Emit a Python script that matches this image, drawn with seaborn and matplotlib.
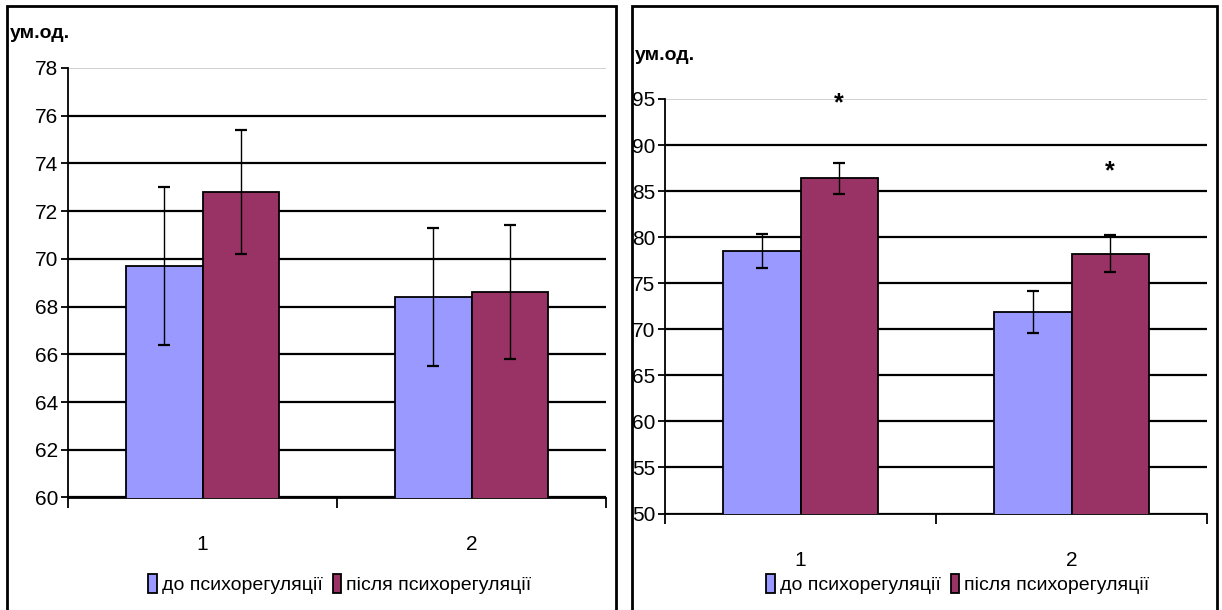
import matplotlib
matplotlib.use("Agg")
import matplotlib.pyplot as plt
import seaborn as sns
import pandas as pd
from matplotlib.patches import Rectangle, Patch

# ---- data ----
groups = ["1", "2"]
series = ["до психорегуляції", "після психорегуляції"]

left_before = [69.7, 68.4]
left_after = [72.8, 68.6]
left_before_err = [3.3, 2.9]
left_after_err = [2.6, 2.8]
left_ticks = list(range(60, 79, 2))

right_before = [78.5, 71.9]
right_after = [86.4, 78.2]
right_before_err = [1.8, 2.3]
right_after_err = [1.7, 2.0]
right_ticks = list(range(50, 96, 5))
right_star_y = [94.5, 87.2]  # significance marks over the "після" bars

unit_label = "ум.од."
colors = {series[0]: "#9999FF", series[1]: "#993366"}

# ---- style ----
sns.set_style("white")
FONT = ["Liberation Sans Narrow", "Liberation Sans", "DejaVu Sans"]
plt.rcParams["font.family"] = FONT
plt.rcParams["text.color"] = "black"
plt.rcParams["xtick.color"] = "black"
plt.rcParams["ytick.color"] = "black"
plt.rcParams["axes.labelcolor"] = "black"

W, H = 1222, 610
fig = plt.figure(figsize=(W / 100, H / 100), dpi=100)


def px_axes(x0, x1, y_top, y_bot):
    return fig.add_axes([x0 / W, 1 - y_bot / H, (x1 - x0) / W, (y_bot - y_top) / H])


def draw_panel(ax, before, after, err_b, err_a, ticks, stars=None):
    df = pd.DataFrame({
        "group": groups * 2,
        "series": [series[0]] * len(groups) + [series[1]] * len(groups),
        "value": before + after,
    })
    sns.barplot(data=df, x="group", y="value", hue="series", order=groups,
                hue_order=series, palette=colors, width=0.57, errorbar=None,
                edgecolor="black", linewidth=1.3, legend=False, ax=ax,
                saturation=1, zorder=3)
    for cont, errs in zip(ax.containers, [err_b, err_a]):
        for bar, e in zip(cont, errs):
            xc = bar.get_x() + bar.get_width() / 2
            ax.errorbar(xc, bar.get_height(), yerr=e, fmt="none", ecolor="black",
                        elinewidth=1.0, capsize=4, capthick=1.6, zorder=4)
    if stars is not None:
        for bar, sy in zip(ax.containers[1], stars):
            xc = bar.get_x() + bar.get_width() / 2
            ax.text(xc, sy, "*", ha="center", va="center", fontsize=18,
                    fontweight="bold", zorder=5)

    ax.set_xlim(-0.5, len(groups) - 0.5)
    ax.set_ylim(ticks[0], ticks[-1])
    ax.set_yticks(ticks)
    ax.set_xticks(range(len(groups)))
    ax.set_xticklabels(groups)
    ax.set_xticks([i - 0.5 for i in range(len(groups) + 1)], minor=True)
    ax.set_xlabel("")
    ax.set_ylabel("")
    ax.set_axisbelow(True)
    ax.yaxis.grid(True, color="black", linewidth=1.6)
    ax.get_ygridlines()[-1].set_color("#c8c8c8")
    ax.get_ygridlines()[-1].set_linewidth(1.2)
    for s in ["top", "right"]:
        ax.spines[s].set_visible(False)
    for s in ["left", "bottom"]:
        ax.spines[s].set_color("black")
        ax.spines[s].set_linewidth(1.3)
    ax.tick_params(axis="x", which="major", bottom=True, length=0, pad=27,
                   labelsize=15)
    ax.tick_params(axis="x", which="minor", bottom=True, length=7, width=1.3,
                   color="black", direction="out")
    ax.tick_params(axis="y", left=True, length=5, width=1.3, color="black",
                   direction="out", labelsize=15, pad=2)


axL = px_axes(68, 606, 68, 497.5)
draw_panel(axL, left_before, left_after, left_before_err, left_after_err, left_ticks)

axR = px_axes(665, 1207, 99, 513.5)
draw_panel(axR, right_before, right_after, right_before_err, right_after_err,
           right_ticks, stars=right_star_y)

# unit labels
fig.text(10 / W, 1 - 33 / H, unit_label, ha="left", va="center", fontsize=14,
         fontweight="bold")
fig.text(635 / W, 1 - 56 / H, unit_label, ha="left", va="center", fontsize=14,
         fontweight="bold")

# legends
handles = [Patch(facecolor=colors[s], edgecolor="black", linewidth=1.3) for s in series]
for cx, cy in [(340, 584), (958, 584)]:
    fig.legend(handles, series, loc="center", bbox_to_anchor=(cx / W, 1 - cy / H),
               ncol=2, frameon=False, handlelength=0.45, handleheight=1.1,
               handletextpad=0.25, columnspacing=0.5, fontsize=14,
               borderaxespad=0, borderpad=0)

# panel frames
for x0, x1 in [(7, 616), (632, 1217)]:
    fig.add_artist(Rectangle((x0 / W, -0.05), (x1 - x0) / W, 1 - 6 / H + 0.05,
                             transform=fig.transFigure, fill=False,
                             edgecolor="black", linewidth=2))

fig.savefig("out.png", dpi=100)
